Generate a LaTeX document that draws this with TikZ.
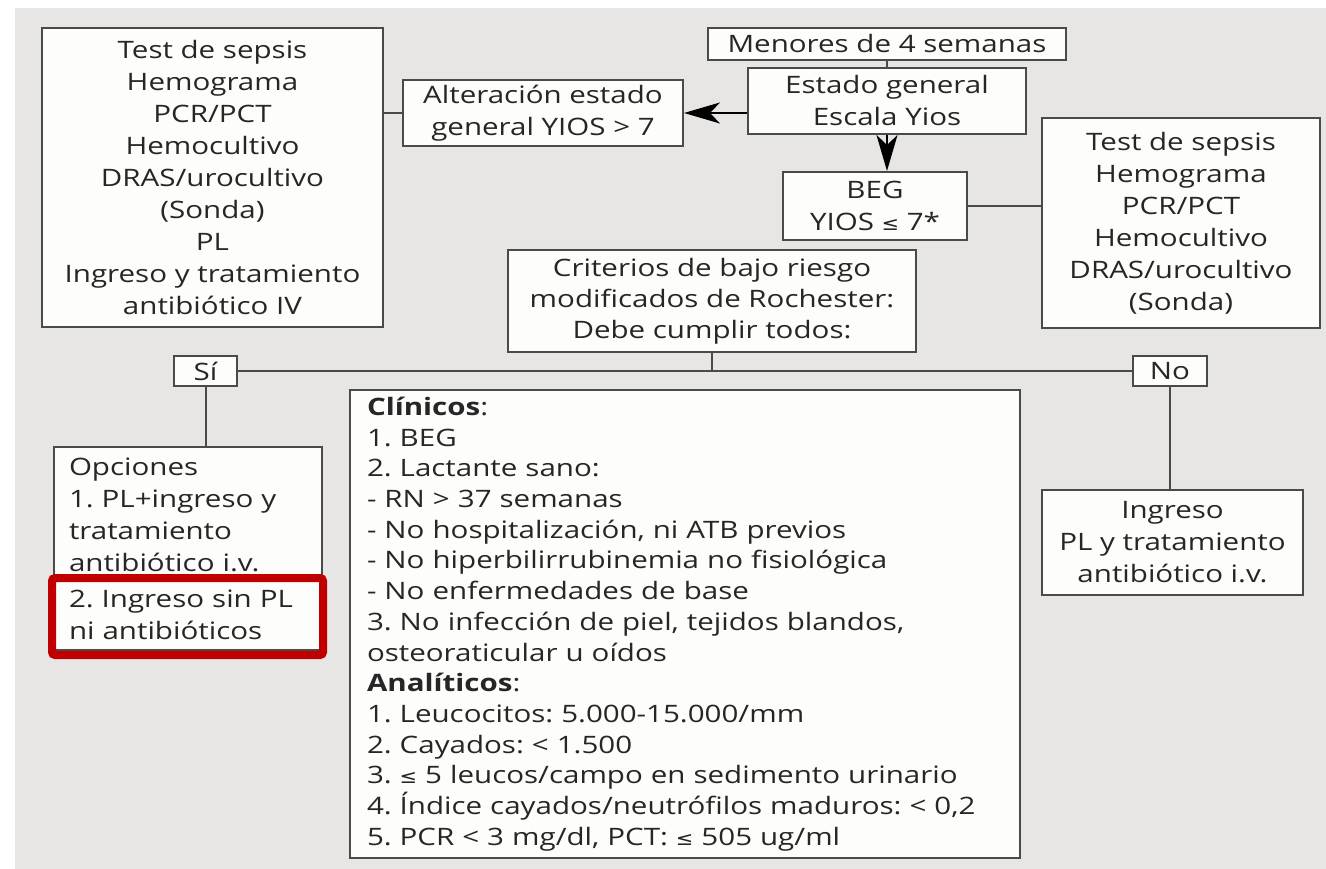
\documentclass[tikz,border=0pt]{standalone}
\usepackage{fontspec}
\setmainfont{Open Sans}[FakeStretch=1.23]
\newfontfamily\symfont{DejaVu Sans}[FakeStretch=1.1]
\usetikzlibrary{arrows.meta}
\usetikzlibrary{positioning}

\definecolor{bggray}{HTML}{E7E6E4}
\definecolor{boxfill}{HTML}{FDFDFB}
\definecolor{inkgray}{HTML}{262626}
\definecolor{linegray}{HTML}{4A4A4A}
\definecolor{hired}{HTML}{C00000}

\tikzset{
  box/.style={draw=linegray, line width=2pt, fill=boxfill, text=inkgray,
    align=center, inner sep=4pt,
    font=\fontsize{24}{32}\selectfont},
  leftbox/.style={box, align=left},
  conn/.style={draw=linegray, line width=2pt},
  arr/.style={conn, -{Stealth[length=36pt,width=21pt,inset=10pt]}, black},
  hilite/.style={draw=hired, line width=8pt, rounded corners=3pt}
}
\frenchspacing

\begin{document}
\begin{tikzpicture}[x=1pt, y=-1pt]
        \useasboundingbox (0,0) rectangle (1326,869);
        \fill[bggray] (15,8) rectangle (1326,869);

        % top
        \node[box, minimum width=358pt, minimum height=32pt] (men) at (887,44) {Menores de 4 semanas};
        \node[box, minimum width=278pt, minimum height=66pt] (est) at (887,101) {Estado general\\Escala Yios};
        \node[box, minimum width=280pt, minimum height=66pt] (alt) at (543,113) {Alteración estado\\general YIOS > 7};
        \node[box, minimum width=184pt, minimum height=68pt] (beg) at (875,206) {BEG\\YIOS {\symfont\fontsize{19}{32}\selectfont ≤} 7*};

        % sepsis
        \node[box, minimum width=341pt, minimum height=299pt] (sep1) at (212.5,177.5)
          {Test de sepsis\\Hemograma\\PCR/PCT\\Hemocultivo\\DRAS/urocultivo\\(Sonda)\\PL\\Ingreso y tratamiento\\antibiótico IV};
        \node[box, minimum width=278pt, minimum height=210pt] (sep2) at (1181,223)
          {Test de sepsis\\Hemograma\\PCR/PCT\\Hemocultivo\\DRAS/urocultivo\\(Sonda)};

        % Rochester
        \node[box, minimum width=408pt, minimum height=102pt, font=\fontsize{24}{31}\selectfont] (crit) at (712,301)
          {Criterios de bajo riesgo\\modificados de Rochester:\\Debe cumplir todos:};
        \node[box, minimum width=63pt, minimum height=30pt, inner sep=1pt] (si) at (205.5,371) {Sí};
        \node[box, minimum width=74pt, minimum height=30pt, inner sep=1pt] (no) at (1170,371) {No};

        % bottom
        \node[leftbox, text width=238pt, inner xsep=15pt, minimum height=203pt] (opc) at (188,548.5)
          {Opciones\\1. PL+ingreso y\\tratamiento\\antibiótico i.v.\\[4pt]2. Ingreso sin PL\\ni antibióticos};
        \node[leftbox, text width=636pt, inner xsep=17pt, minimum height=468pt, font=\fontsize{24}{30.7}\selectfont] (clin) at (685,624)
          {\textbf{Clínicos}:\\1. BEG\\2. Lactante sano:\\- RN > 37 semanas\\- No hospitalización, ni ATB previos\\- No hiperbilirrubinemia no fisiológica\\- No enfermedades de base\\3. No infección de piel, tejidos blandos,\\osteoraticular u oídos\\\textbf{Analíticos}:\\1. Leucocitos: 5.000-15.000/mm\\2. Cayados: < 1.500\\3. {\symfont\fontsize{19}{30.7}\selectfont ≤} 5 leucos/campo en sedimento urinario\\4. Índice cayados/neutrófilos maduros: < 0,2\\5. PCR < 3 mg/dl, PCT: {\symfont\fontsize{19}{30.7}\selectfont ≤} 505 ug/ml};
        \node[box, minimum width=261pt, minimum height=105pt] (ing) at (1172.5,542.5)
          {Ingreso\\PL y tratamiento\\antibiótico i.v.};

        \draw[hilite] (52,578) rectangle (323,655);

        \draw[conn] (men.south) -- (est.north);
        \draw[arr] (est.west |- alt.east) -- (alt.east);
        \draw[arr] (est.south) -- (est.south |- beg.north);
        \draw[conn] (sep1.east |- alt.west) -- (alt.west);
        \draw[conn] (beg.east) -- (beg.east -| sep2.west);
        \draw[conn] (crit.south) -- (crit.south |- si.east);
        \draw[conn] (si.east) -- (no.west);
        \draw[conn] (si.south) -- (si.south |- opc.north);
        \draw[conn] (no.south) -- (no.south |- ing.north);
      \end{tikzpicture}
\end{document}
